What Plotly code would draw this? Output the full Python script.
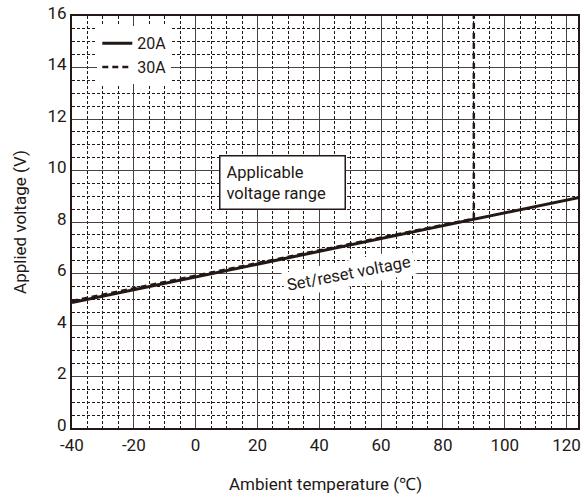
import plotly.graph_objects as go

# Data
temp_20A = [-40, 124]
volt_20A = [4.87, 8.95]
temp_30A = [-40, 90, 90]
volt_30A = [4.93, 8.13, 16.0]

x_ticks = [-40, -20, 0, 20, 40, 60, 80, 100, 120]
y_ticks = [0, 2, 4, 6, 8, 10, 12, 14, 16]

INK = "#231815"
FONT = "Roboto"

fig = go.Figure()
fig.add_trace(go.Scatter(x=temp_20A, y=volt_20A, mode="lines", name="20A",
                         line=dict(color=INK, width=3)))
fig.add_trace(go.Scatter(x=temp_30A, y=volt_30A, mode="lines", name="30A",
                         line=dict(color=INK, width=2.5, dash="6px,4px")))

fig.add_annotation(x=28, y=9.55, xref="x", yref="y",
                   text="Applicable<br>voltage range", showarrow=False,
                   align="left", font=dict(family=FONT, size=16.5, color=INK),
                   bgcolor="white", bordercolor=INK, borderwidth=1.5,
                   borderpad=6, width=112)
fig.add_annotation(x=49.5, y=6.0, xref="x", yref="y",
                   text="Set/reset voltage", showarrow=False, textangle=-11,
                   font=dict(family=FONT, size=16.5, color=INK),
                   bgcolor="white", borderpad=3)

# axis titles
fig.add_annotation(x=0.5, y=-0.135, xref="paper", yref="paper",
                   text="Ambient temperature (℃)", showarrow=False,
                   xanchor="center", yanchor="middle",
                   font=dict(family=FONT, size=17, color=INK))
fig.add_annotation(x=-0.103, y=0.5, xref="paper", yref="paper",
                   text="Applied voltage (V)", showarrow=False, textangle=-90,
                   xanchor="center", yanchor="middle",
                   font=dict(family=FONT, size=17, color=INK))

axis_common = dict(
    showline=True, linecolor=INK, linewidth=2, mirror=True,
    showgrid=True, gridcolor="#4a4242", gridwidth=1.2,
    ticks="", zeroline=False, automargin=False,
    tickfont=dict(family=FONT, size=17, color=INK),
)

fig.update_xaxes(range=[-40, 123.7], tickvals=x_ticks,
                 ticktext=[str(v) for v in x_ticks],
                 ticklabelstandoff=1,
                 minor=dict(dtick=5, tick0=0, showgrid=True, gridcolor=INK,
                            griddash="3px,2px", gridwidth=1),
                 **axis_common)
fig.update_yaxes(range=[0, 16], tickvals=y_ticks,
                 ticktext=[str(v) for v in y_ticks],
                 ticklabelshift=-3,
                 minor=dict(dtick=0.5, tick0=0, showgrid=True, gridcolor=INK,
                            griddash="3px,2px", gridwidth=1),
                 **axis_common)

fig.update_layout(
    width=584, height=498,
    margin=dict(l=72, r=6, t=16, b=70),
    paper_bgcolor="white", plot_bgcolor="white",
    showlegend=True,
    legend=dict(x=0.05, y=0.975, xanchor="left", yanchor="top",
                bgcolor="white", borderwidth=0,
                font=dict(family=FONT, size=16, color=INK),
                tracegroupgap=0, itemwidth=30),
    font=dict(family=FONT, color=INK),
)

fig.write_html("out.html", config={"displayModeBar": False},
               post_script="document.body.style.margin='0';")
